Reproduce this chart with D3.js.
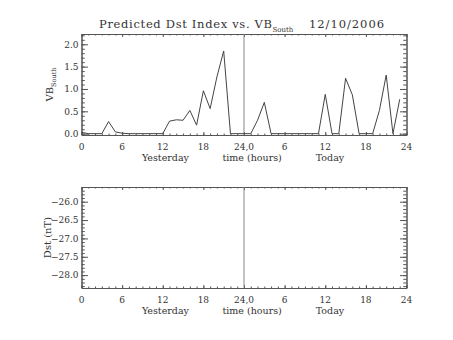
<!DOCTYPE html>
<html>
<head>
<meta charset="utf-8">
<script src="https://cdn.jsdelivr.net/npm/d3@7"></script>
<style>
  html, body { margin: 0; padding: 0; background: #fff; }
  svg { display: block; }
  text { font-family: "DejaVu Serif", "Liberation Serif", serif; fill: #333; }
</style>
</head>
<body>
<script>
// Hourly VB-south values: hours 0-23 are yesterday, 24-47 are today
const hours = [0,1,2,3,4,5,6,7,8,9,10,11,12,13,14,15,16,17,18,19,20,21,22,23,
               24,25,26,27,28,29,30,31,32,33,34,35,36,37,38,39,40,41,42,43,44,45,46,47];
const vbSouth = [0.03,0,0,0,0.27,0.04,0.01,0,0,0,0,0,0,0.28,0.31,0.30,0.52,0.19,0.96,0.56,1.27,1.85,0,0,
                 0,0,0.30,0.70,0,0,0,0,0,0,0,0,0.88,0,0,1.24,0.87,0,0,0,0.52,1.31,0,0.77];
// Predicted Dst has no values for this day
const dst = [];

const xMajorTicks = [0,6,12,18,24,30,36,42,48];
const xTickLabels = ["0","6","12","18","24,0","6","12","18","24"];
const vbTicks = [0.0,0.5,1.0,1.5,2.0];
const dstTicks = [-26.0,-26.5,-27.0,-27.5,-28.0];

const W = 453, H = 340;
const svg = d3.select("body").append("svg").attr("width", W).attr("height", H);

const x = d3.scaleLinear().domain([0,48]).range([81.5,406.5]);
const xMinor = d3.range(0,49,1);

function panel(top, bottom, yDomain, majors, minorStep, fmt) {
  const y = d3.scaleLinear().domain(yDomain).range([bottom, top]);
  const g = svg.append("g");
  const lo = Math.ceil(yDomain[0]/minorStep - 1e-6), hi = Math.floor(yDomain[1]/minorStep + 1e-6);
  const yMinor = d3.range(lo, hi+1).map(i => +(i*minorStep).toFixed(2));
  const stroke = "#555";
  const pw = x.range()[1]-x.range()[0], ph = bottom-top;
  const xl = Math.round(0.02*ph*10)/10, yl = 0.02*pw;

  // x axes (bottom and top), ticks pointing inward
  const addX = (ypos, orient, len) => {
    g.append("g").attr("transform", `translate(0,${ypos})`)
      .call(orient(x).tickValues(xMinor).tickSizeInner(len/2).tickSizeOuter(0).tickFormat(""));
    g.append("g").attr("transform", `translate(0,${ypos})`)
      .call(orient(x).tickValues(xMajorTicks).tickSizeInner(len).tickSizeOuter(0).tickFormat(""));
  };
  addX(bottom, d3.axisBottom, -xl-1);
  addX(top, d3.axisTop, -xl-1);
  const addY = (xpos, orient, len) => {
    g.append("g").attr("transform", `translate(${xpos},0)`)
      .call(orient(y).tickValues(yMinor).tickSizeInner(len/2).tickSizeOuter(0).tickFormat(""));
    g.append("g").attr("transform", `translate(${xpos},0)`)
      .call(orient(y).tickValues(majors).tickSizeInner(len).tickSizeOuter(0).tickFormat(""));
  };
  addY(x.range()[0], d3.axisLeft, -yl);
  addY(x.range()[1], d3.axisRight, -yl);
  g.selectAll("path.domain").attr("stroke", stroke).attr("stroke-width", 1);
  g.selectAll(".tick line").attr("stroke", stroke).attr("stroke-width", 1);

  // day divider at hour 24
  g.append("line").attr("x1", x(24)).attr("x2", x(24)).attr("y1", top).attr("y2", bottom)
    .attr("stroke", "#888").attr("stroke-width", 1);

  // x tick labels
  g.selectAll("text.xl").data(xMajorTicks).enter().append("text")
    .attr("x", d => x(d)).attr("y", bottom+15).attr("text-anchor", "middle")
    .attr("font-size", 9).text((d,i) => xTickLabels[i]);
  g.append("text").attr("x", x(12.4)).attr("y", bottom+26).attr("text-anchor","middle")
    .attr("font-size", 9.5).text("Yesterday");
  g.append("text").attr("x", x(25.2)).attr("y", bottom+26).attr("text-anchor","middle")
    .attr("font-size", 9.5).text("time (hours)");
  g.append("text").attr("x", x(36.7)).attr("y", bottom+26).attr("text-anchor","middle")
    .attr("font-size", 9.5).text("Today");

  // y tick labels
  g.selectAll("text.yl").data(majors).enter().append("text")
    .attr("x", x.range()[0]-3).attr("y", d => y(d)+3.3).attr("text-anchor","end")
    .attr("font-size", 9).text(d => fmt(d));
  return {g, y};
}

// Upper panel: VB south
const p1 = panel(34, 135, [-0.03, 2.23], vbTicks, 0.1, d3.format(".1f"));
const line1 = d3.line().x((d,i) => x(hours[i])).y(d => p1.y(d));
p1.g.append("path").datum(vbSouth).attr("d", line1)
  .attr("fill","none").attr("stroke","#444").attr("stroke-width",1);
const yt1 = p1.g.append("text").attr("transform", `translate(53,${(34+135)/2}) rotate(-90)`)
  .attr("text-anchor","middle").attr("font-size", 10);
yt1.append("tspan").text("VB");
yt1.append("tspan").attr("font-size", 6.5).attr("dy", 3).text("South");

// Lower panel: Dst
const p2 = panel(187, 288, [-28.35, -25.6], dstTicks, 0.1, d3.format(".1f"));
const line2 = d3.line().x(d => x(d.hour)).y(d => p2.y(d.value));
p2.g.append("path").datum(dst).attr("d", line2)
  .attr("fill","none").attr("stroke","#444").attr("stroke-width",1);
p2.g.append("text").attr("transform", `translate(51,${(187+288)/2}) rotate(-90)`)
  .attr("text-anchor","middle").attr("font-size", 10).text("Dst (nT)");

// Title
const t = svg.append("text").attr("x", 99).attr("y", 27.5).attr("font-size", 11.5);
t.append("tspan").attr("textLength", 173).attr("lengthAdjust","spacing").text("Predicted Dst Index vs. VB");
svg.append("text").attr("x", 272.5).attr("y", 32).attr("font-size", 7).text("South");
svg.append("text").attr("x", 309).attr("y", 27.5).attr("font-size", 11.5)
  .attr("textLength", 75).attr("lengthAdjust","spacing").text("12/10/2006");
</script>
</body>
</html>
